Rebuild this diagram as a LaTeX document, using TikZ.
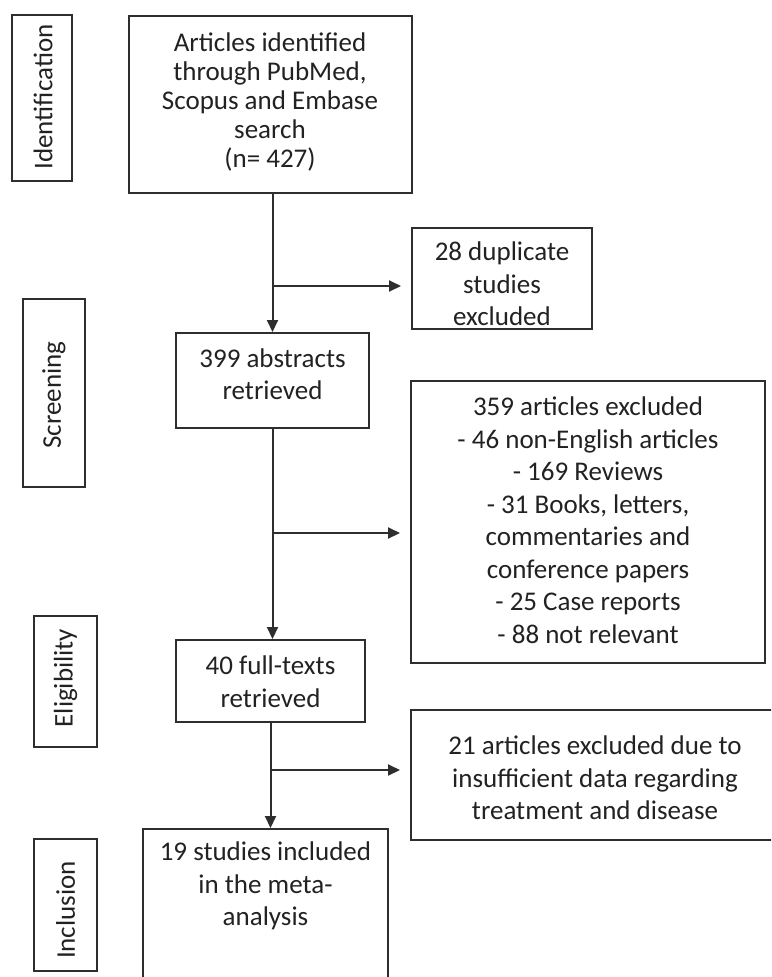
\documentclass[tikz,border=0pt]{standalone}
\usepackage{fontspec}
\setmainfont{Carlito}
\usetikzlibrary{arrows.meta}
\definecolor{ink}{HTML}{222222}
\definecolor{edge}{HTML}{2E2E2E}
\begin{document}
\begin{tikzpicture}[x=1pt,y=-1pt,
  boxshape/.style={draw=edge, line width=2pt, rectangle, inner sep=0pt},
  txt/.style={text=ink, align=center, font=\fontsize{27}{32.5}\selectfont, inner sep=0pt},
  arr/.style={draw=edge, line width=2pt, -{Triangle[length=12pt,width=11pt]}},
  side/.style={txt, rotate=90}]
\clip (0,0) rectangle (771,977);
\fill[white] (0,0) rectangle (771,977);
% side stage boxes
\node[boxshape, minimum width=60pt, minimum height=166pt] (sid) at (42,98) {};
\node[boxshape, minimum width=62pt, minimum height=188pt] (ssc) at (54,393) {};
\node[boxshape, minimum width=63pt, minimum height=131pt] (sel) at (65.5,681.5) {};
\node[boxshape, minimum width=63pt, minimum height=132pt] (sin) at (65.5,905) {};
\node[side] (sidT) at (43,97) {Identification};
\node[side] (sscT) at (54,395) {Screening};
\node[side] (selT) at (65.5,678) {Eligibility};
\node[side] (sinT) at (65.5,910) {Inclusion};
% flow boxes
\node[boxshape, minimum width=283pt, minimum height=177pt] (top) at (270.5,104.5) {};
\node[boxshape, minimum width=180pt, minimum height=101pt] (dup) at (502,278.5) {};
\node[boxshape, minimum width=193pt, minimum height=95pt] (abs) at (272.5,380.5) {};
\node[boxshape, minimum width=354pt, minimum height=282pt] (exa) at (588,522) {};
\node[boxshape, minimum width=189pt, minimum height=82pt] (full) at (270.5,681) {};
\node[boxshape, minimum width=369pt, minimum height=130pt] (exb) at (595.5,775) {};
\node[boxshape, minimum width=245pt, minimum height=171pt] (incl) at (265.5,914.5) {};
% texts
\node[txt, font=\fontsize{27}{29}\selectfont] (topT) at (270,102) {Articles identified\\through PubMed,\\Scopus and Embase\\search\\(n= 427)};
\node[txt] (dupT) at (502,284) {28 duplicate\\studies\\excluded};
\node[txt] (absT) at (272.5,374) {399 abstracts\\retrieved};
\node[txt] (exaT) at (588,520) {359 articles excluded\\- 46 non-English articles\\- 169 Reviews\\- 31 Books, letters,\\commentaries and\\conference papers\\- 25 Case reports\\- 88 not relevant};
\node[txt] (fullT) at (270.5,681.5) {40 full-texts\\retrieved};
\node[txt] (exbT) at (595,778) {21 articles excluded due to\\insufficient data regarding\\treatment and disease};
\node[txt] (inclT) at (265.5,886) {19 studies included\\in the meta-\\analysis};
% connectors
\coordinate (b1) at (272.5,286);
\coordinate (b2) at (272.5,533);
\coordinate (b3) at (270.5,770);
\draw[arr] (top.south -| abs.north) -- (abs.north);
\draw[arr, shorten >=10pt] (b1) -- (b1 -| dup.west);
\draw[arr] (abs.south) -- (abs.south |- full.north);
\draw[arr, shorten >=10pt] (b2) -- (b2 -| exa.west);
\draw[arr] (full.south) -- (full.south |- incl.north);
\draw[arr, shorten >=10pt] (b3) -- (b3 -| exb.west);
\end{tikzpicture}
\end{document}
